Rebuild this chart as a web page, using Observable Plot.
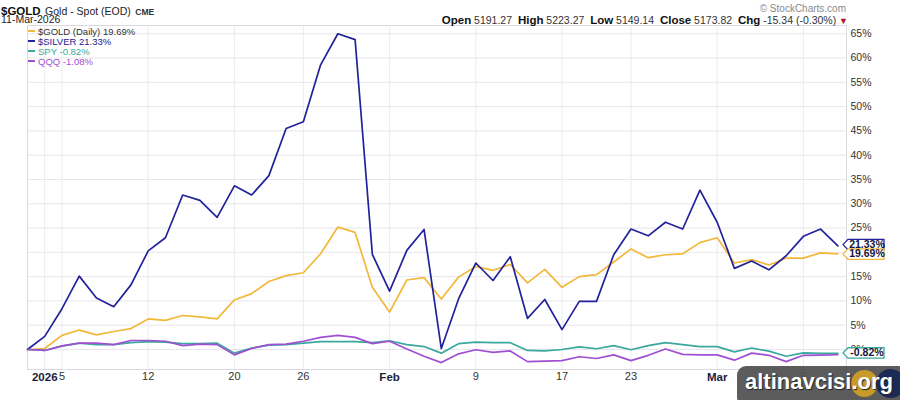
<!DOCTYPE html>
<html>
<head>
<meta charset="utf-8">
<script src="https://cdn.jsdelivr.net/npm/d3@7"></script>
<script src="https://cdn.jsdelivr.net/npm/@observablehq/plot@0.6"></script>
<style>
  body { margin: 0; background: #fff; font-family: "Liberation Sans", Arial, sans-serif; }
  #wrap { position: relative; width: 900px; height: 400px; overflow: hidden; }
  #wrap > svg { position: absolute; left: 0; top: 0; }
  .abs { position: absolute; white-space: nowrap; }
  .hdr-sym { font-weight: bold; font-size: 11.5px; color: #111; }
  .hdr-name { font-size: 10.5px; color: #222; }
  .hdr-ex { font-size: 8.5px; color: #333; font-weight: bold; }
  .quote { font-size: 10.5px; color: #333; }
  .quote b { font-size: 11.5px; color: #111; }
  .legend div { height: 10px; line-height: 10px; font-size: 9.5px; }
  .legend span.sw { display: inline-block; width: 7px; height: 2px; vertical-align: middle; margin-right: 3px; position: relative; top: -1px; }
  .dotc { border-radius: 50%; }
</style>
</head>
<body>
<div id="wrap"></div>
<script>
// Trading days from the last close of 2025 through 11 Mar 2026
const dates = [
  "2025-12-31","2026-01-02","2026-01-05","2026-01-06","2026-01-07","2026-01-08","2026-01-09",
  "2026-01-12","2026-01-13","2026-01-14","2026-01-15","2026-01-16","2026-01-20","2026-01-21",
  "2026-01-22","2026-01-23","2026-01-26","2026-01-27","2026-01-28","2026-01-29","2026-01-30",
  "2026-02-02","2026-02-03","2026-02-04","2026-02-05","2026-02-06","2026-02-09","2026-02-10",
  "2026-02-11","2026-02-12","2026-02-13","2026-02-17","2026-02-18","2026-02-19","2026-02-20",
  "2026-02-23","2026-02-24","2026-02-25","2026-02-26","2026-02-27","2026-03-02","2026-03-03",
  "2026-03-04","2026-03-05","2026-03-06","2026-03-09","2026-03-10","2026-03-11"
];

// Percent change since the start date
const gold = [0, 0.2, 2.9, 4.0, 3.0, 3.7, 4.3, 6.3, 6.0, 7.0, 6.7, 6.3,
  10.2, 11.5, 14.0, 15.2, 15.8, 19.7, 25.2, 24.1, 12.8, 7.7, 14.3, 14.8,
  10.4, 14.9, 17.1, 16.3, 17.5, 13.7, 16.5, 12.8, 15.0, 15.4, 18.0, 20.7,
  18.9, 19.5, 19.7, 22.0, 23.0, 17.8, 18.5, 17.4, 18.8, 18.8, 19.9, 19.69];
const silver = [0, 2.7, 8.4, 15.1, 10.6, 8.8, 13.3, 20.3, 23.0, 31.8, 30.7, 27.2,
  33.7, 31.8, 35.8, 45.5, 46.9, 58.6, 65.0, 63.8, 19.6, 12.0, 20.4, 24.7,
  0.2, 10.4, 17.8, 14.2, 19.1, 6.4, 10.3, 4.1, 9.9, 9.9, 19.5, 24.8,
  23.4, 26.2, 24.8, 32.8, 26.2, 16.7, 18.2, 16.4, 19.3, 23.3, 24.8, 21.33];
const spy = [0, -0.2, 0.7, 1.3, 1.0, 1.0, 1.4, 1.6, 1.5, 1.2, 1.2, 1.3,
  -0.75, 0.3, 0.9, 1.0, 1.3, 1.6, 1.6, 1.6, 1.4, 1.8, 1.0, 0.6,
  -0.75, 1.2, 1.5, 1.4, 1.4, -0.2, -0.3, 0, 0.55, 0.15, 0.8, -0.05,
  0.8, 1.4, 1.0, 0.6, 0.6, -0.5, 0.3, -0.35, -1.4, -0.7, -0.8, -0.82];
const qqq = [0, -0.2, 0.75, 1.3, 1.3, 1.0, 1.85, 1.85, 1.7, 0.8, 1.1, 1.0,
  -1.1, 0.2, 1.0, 1.1, 1.7, 2.5, 2.9, 2.5, 1.2, 1.7, 0.1, -1.4,
  -2.7, -0.9, -0.05, -0.6, -0.3, -2.5, -2.4, -2.3, -1.5, -1.85, -1.1, -2.3,
  -1.2, 0.1, -1.0, -1.1, -1.1, -2.2, -0.75, -1.2, -2.5, -1.2, -1.15, -1.08];

const seriesNames = ["$GOLD (Daily)", "$SILVER", "SPY", "QQQ"];
const seriesColors = ["#f2b83a", "#22229a", "#3aa89c", "#a04fd2"];
const seriesTextColors = ["#333333", "#22229a", "#3aa89c", "#a04fd2"];
const seriesValues = [gold, silver, spy, qqq];

// x-axis ticks: day index and label
const tickIdx = [1, 2, 7, 12, 16, 21, 26, 31, 35, 40, 45];
const tickLabels = ["2026", "5", "12", "20", "26", "Feb", "9", "17", "23", "Mar", "9"];
const boldLabels = ["2026", "Feb", "Mar"];
const yTicks = d3.range(0, 66, 5);

const rows = [];
seriesNames.forEach((name, s) => {
  seriesValues[s].forEach((v, i) => rows.push({series: name, i, date: dates[i], v}));
});

const labelOf = new Map(tickIdx.map((t, k) => [t, tickLabels[k]]));
const numTicks = tickIdx.filter(t => !boldLabels.includes(labelOf.get(t)));
const monthTicks = tickIdx.filter(t => boldLabels.includes(labelOf.get(t)));

const chart = Plot.plot({
  width: 900,
  height: 400,
  marginLeft: 27,
  marginRight: 54,
  marginTop: 25,
  marginBottom: 31,
  style: {fontFamily: "Liberation Sans, Arial, sans-serif", background: "transparent"},
  x: {domain: [0, 47.5], label: null},
  y: {domain: [-4.12, 66.7], label: null},
  color: {domain: seriesNames, range: seriesColors},
  marks: [
    Plot.gridY(yTicks, {stroke: "#e6e6ec", strokeOpacity: 1}),
    Plot.gridX(tickIdx, {stroke: "#ececf1", strokeOpacity: 1}),
    Plot.frame({stroke: "#d9d9df"}),
    Plot.line(rows, {x: "i", y: "v", z: "series", stroke: "series", strokeWidth: 1.7, curve: "linear"}),
    Plot.axisY(yTicks, {anchor: "right", tickSize: 0, tickPadding: 4, fontSize: 10.5, fill: "#333",
      label: null, tickFormat: d => d + "%"}),
    Plot.axisX(numTicks, {anchor: "bottom", tickSize: 0, tickPadding: 3, fontSize: 11, fill: "#333",
      label: null, tickFormat: t => labelOf.get(t)}),
    Plot.axisX(monthTicks, {anchor: "bottom", tickSize: 0, tickPadding: 3, fontSize: 11.5, fill: "#1c1c3c",
      fontWeight: "bold", label: null, tickFormat: t => labelOf.get(t)})
  ]
});

const wrap = document.getElementById("wrap");
wrap.appendChild(chart);

function addDiv(html, cls, style) {
  const d = document.createElement("div");
  d.className = "abs " + (cls || "");
  d.innerHTML = html;
  Object.assign(d.style, style || {});
  wrap.appendChild(d);
  return d;
}

// Header
addDiv('<span class="hdr-sym">$GOLD</span> <span class="hdr-name">Gold - Spot (EOD)</span> <span class="hdr-ex">CME</span>', "", {left: "1px", top: "1px"});
addDiv('<span class="hdr-name">11-Mar-2026</span>', "", {left: "1px", top: "13px", fontSize: "10px"});
addDiv('© StockCharts.com', "", {right: "54px", top: "3px", fontSize: "10px", color: "#8a8a8a"});
addDiv('<b>Open</b> 5191.27&nbsp; <b>High</b> 5223.27&nbsp; <b>Low</b> 5149.14&nbsp; <b>Close</b> 5173.82&nbsp; <b>Chg</b> -15.34 (-0.30%) <span style="color:#b0102a;font-size:9px">&#9660;</span>',
  "quote", {right: "52px", top: "14px"});

// Legend
const leg = addDiv("", "legend", {left: "28px", top: "27px"});
seriesNames.forEach((name, s) => {
  const last = seriesValues[s][seriesValues[s].length - 1];
  const row = document.createElement("div");
  row.style.color = seriesTextColors[s];
  row.innerHTML = `<span class="sw" style="background:${seriesColors[s]}"></span>${name} ${last.toFixed(2)}%`;
  leg.appendChild(row);
});

// Last-value tags on the right axis
const ys = chart.scale("y");
const tagSeries = [1, 0, 2]; // silver, gold, spy (QQQ sits under SPY)
let tags = tagSeries.map(s => ({s, v: seriesValues[s][seriesValues[s].length - 1]}))
  .map(t => ({...t, y: ys.apply(t.v)}))
  .sort((a, b) => a.y - b.y);
for (let k = 1; k < tags.length; k++) {
  if (tags[k].y - tags[k - 1].y < 9.5) {
    const mid = (tags[k].y + tags[k - 1].y) / 2;
    tags[k - 1].y = mid - 4.75; tags[k].y = mid + 4.75;
  }
}
const svgNS = "http://www.w3.org/2000/svg";
const ov = document.createElementNS(svgNS, "svg");
ov.setAttribute("width", 900); ov.setAttribute("height", 400);
ov.style.position = "absolute"; ov.style.left = "0"; ov.style.top = "0";
const x0 = 843;
tags.forEach(t => {
  const yc = t.y, h = 5.2;
  const p = document.createElementNS(svgNS, "path");
  p.setAttribute("d", `M${x0},${yc} L${x0 + 5},${yc - h} L${x0 + 41},${yc - h} L${x0 + 41},${yc + h} L${x0 + 5},${yc + h} Z`);
  p.setAttribute("fill", "#fff");
  p.setAttribute("stroke", seriesColors[t.s]);
  p.setAttribute("stroke-width", 1.3);
  ov.appendChild(p);
  const tx = document.createElementNS(svgNS, "text");
  tx.setAttribute("x", x0 + 24);
  tx.setAttribute("y", yc + 0.5);
  tx.setAttribute("text-anchor", "middle");
  tx.setAttribute("dominant-baseline", "middle");
  tx.setAttribute("font-size", "10.5");
  tx.setAttribute("font-weight", "bold");
  tx.setAttribute("font-family", "Liberation Sans, Arial, sans-serif");
  tx.setAttribute("fill", "#15153a");
  tx.textContent = t.v.toFixed(2) + "%";
  ov.appendChild(tx);
});
wrap.appendChild(ov);

// Site badge
addDiv("", "", {left: "737px", top: "366px", width: "170px", height: "40px", background: "rgba(78,78,78,0.92)", borderRadius: "9px"});
addDiv("", "dotc", {left: "851px", top: "370px", width: "27px", height: "27px", background: "#c79a2a"});
addDiv("", "dotc", {left: "876px", top: "369px", width: "29px", height: "29px", background: "#1c2a55"});
addDiv("altinavcisi.org", "", {left: "745px", top: "369px", fontSize: "22px", fontWeight: "bold", color: "#fff", textShadow: "1px 1px 1px #222"});
</script>
</body>
</html>
